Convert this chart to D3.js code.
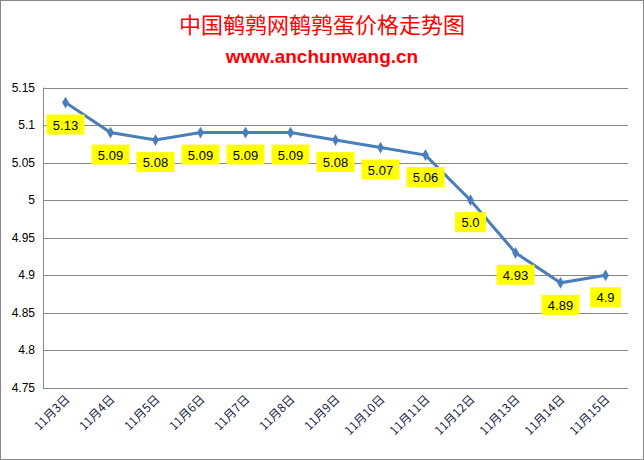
<!DOCTYPE html>
<html><head><meta charset="utf-8">
<script src="https://cdn.jsdelivr.net/npm/d3@7"></script>
<style>body{margin:0;background:#fff}</style></head>
<body><svg id="c" width="644" height="460"></svg>
<script>
const categories=["11月3日","11月4日","11月5日","11月6日","11月7日","11月8日","11月9日","11月10日","11月11日","11月12日","11月13日","11月14日","11月15日"];
const values=[5.13,5.09,5.08,5.09,5.09,5.09,5.08,5.07,5.06,5.0,4.93,4.89,4.9];
const labels=["5.13","5.09","5.08","5.09","5.09","5.09","5.08","5.07","5.06","5.0","4.93","4.89","4.9"];
const yTicks=[4.75,4.8,4.85,4.9,4.95,5,5.05,5.1,5.15];
const svg=d3.select("#c");
const F="Liberation Sans, Arial, sans-serif";
svg.append("rect").attr("x",0.5).attr("y",0.5).attr("width",643).attr("height",459).attr("fill","#fff").attr("stroke","#888");
svg.append("text").attr("x",322).attr("y",33).attr("text-anchor","middle").attr("fill","#ff0000").attr("font-size",22).attr("font-family","Noto Sans CJK SC").text("中国鹌鹑网鹌鹑蛋价格走势图");
svg.append("text").attr("x",322).attr("y",63).attr("text-anchor","middle").attr("fill","#ff0000").attr("font-size",19).attr("font-weight","bold").attr("font-family",F).text("www.anchunwang.cn");
const L=43,R=628,T=87.5,B=388;
const x=d3.scaleBand().domain(categories).range([L,R]);
const y=d3.scaleLinear().domain([4.75,5.15]).range([B,T]);
const g=svg.append("g");
g.selectAll("line.g").data(yTicks).join("line").attr("x1",L).attr("x2",R).attr("y1",d=>Math.round(y(d))+0.5).attr("y2",d=>Math.round(y(d))+0.5).attr("stroke","#888");
g.append("line").attr("x1",L+0.5).attr("x2",L+0.5).attr("y1",T).attr("y2",B).attr("stroke","#888");
g.selectAll("text.y").data(yTicks).join("text").attr("x",35).attr("y",d=>y(d)+4).attr("text-anchor","end").attr("font-size",12).attr("font-family",F).attr("fill","#000").text(d=>d3.format("")(+d.toFixed(2)));
g.selectAll("text.x").data(categories).join("text")
 .attr("transform",d=>`translate(${x(d)+x.bandwidth()/2+5},${B+12}) rotate(-45)`)
 .attr("text-anchor","end").attr("font-size",12).attr("font-family","Noto Sans CJK SC").attr("fill","#1a1f4a").text(d=>d);
const line=d3.line().x((d,i)=>x(categories[i])+x.bandwidth()/2).y(d=>y(d));
g.append("path").datum(values).attr("d",line).attr("fill","none").attr("stroke","#4a7ebb").attr("stroke-width",3);
g.selectAll("path.m").data(values).join("path").attr("d",d3.symbol(d3.symbolDiamond,40))
 .attr("transform",(d,i)=>`translate(${x(categories[i])+x.bandwidth()/2},${y(d)})`).attr("fill","#4a7ebb");
const lab=g.selectAll("g.l").data(values).join("g").attr("transform",(d,i)=>`translate(${x(categories[i])+x.bandwidth()/2},${y(d)+22})`);
lab.append("rect").attr("x",(d,i)=>-labels[i].length*3.5-5).attr("y",-10).attr("width",(d,i)=>labels[i].length*7+10).attr("height",20).attr("fill","#ffff00");
lab.append("text").attr("y",5).attr("text-anchor","middle").attr("font-size",13).attr("font-family",F).text((d,i)=>labels[i]);
</script></body></html>
